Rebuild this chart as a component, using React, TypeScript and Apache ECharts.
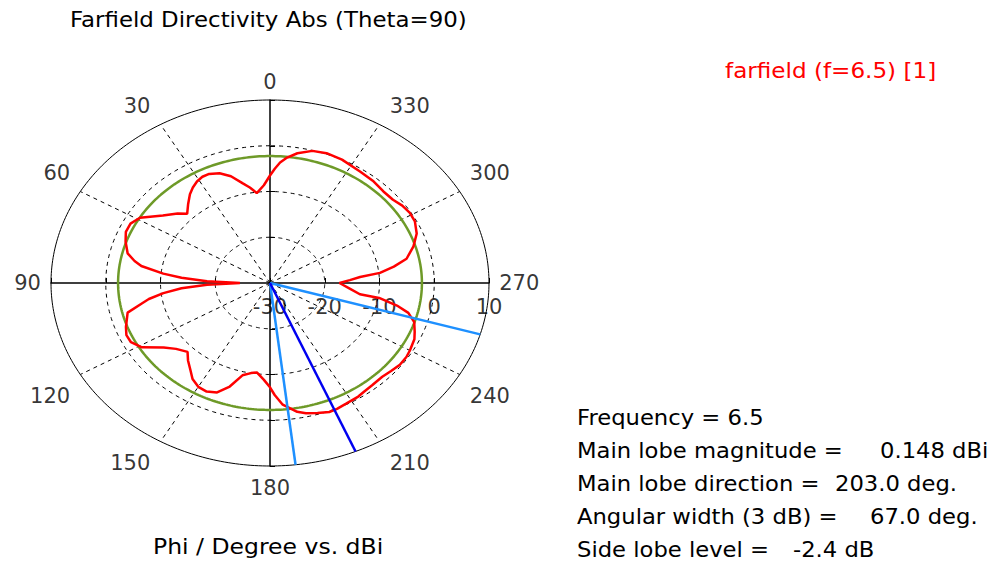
import React, { useEffect, useRef } from "react";
import * as echarts from "echarts";

// ---------- data ----------
const phiDeg = [0,3,7,10,13,17,21,25,28,31,34,37,41,45,48,53,59,63,67,71,76,79,81,84,86,88,90,92,94,96.5,99,101,104,110,113.5,117,121,126,130,135,138.5,142.5,146,150,154,158,162,166,170,173,177,180,182,185,190,193,197,201,204,208,213,216,220,225,229,233,237,240,245,248,252,255.5,258,260.7,261.5,265,270,272.5,274.6,276.3,279,282,287,292,297,301,305,309,314,320,326,334,340,345,350,353.5,356,358,360];
const directivityDbi = [-6.5,-8.6,-10.2,-8.8,-7.6,-5.6,-4.3,-3.7,-3.7,-4.1,-4.8,-5.7,-7.2,-8.6,-7.3,-5.5,-2.3,-1.4,-1.4,-2.1,-3.2,-4.8,-6.2,-10.4,-13.8,-18.5,-24.5,-18.5,-13.8,-10.4,-7.6,-6.0,-3.2,-2.0,-1.4,-1.5,-2.7,-6.0,-7.6,-8.7,-7.4,-6.1,-4.7,-3.8,-3.6,-4.2,-6.2,-9.2,-10.0,-10.3,-8.8,-7.2,-5.5,-3.3,-1.4,-0.8,-0.3,0.2,0.1,-0.2,-0.4,-0.7,-0.9,-1.0,-0.7,-0.3,-0.3,-0.5,-0.9,-1.5,-2.3,-3.9,-6.3,-9.8,-13.4,-15.3,-17.3,-15.4,-13.5,-9.8,-7.1,-4.5,-2.6,-1.1,-0.3,-0.2,-0.5,-1.1,-1.2,-0.8,-0.6,0.0,0.2,-0.1,-1.2,-2.4,-3.6,-5.0,-6.5];

const angleTicks = [0, 30, 60, 90, 120, 150, 180, 210, 240, 270, 300, 330];
const angleTickLabels = ["0", "30", "60", "90", "120", "150", "180", "210", "240", "270", "300", "330"];
const radialTicksDb = [-30, -20, -10, 0, 10];
const radialTickLabels = ["-30", "-20", "-10", "0", "10"];
const radialMinDb = -30;
const radialMaxDb = 10;
const dashedCirclesDb = [-20, -10, 0];
const spokeAngles = [30, 60, 120, 150, 210, 240, 300, 330];

const mainLobeMagnitude = 0.148;
const mainLobeDirection = 203.0;
const angularWidth3dB = 67.0;
const sideLobeLevel = -2.4;
const beamEdgeDirections = [186.7, 253.7];

const titleText = "Farfield Directivity Abs (Theta=90)";
const legendText = "farfield (f=6.5) [1]";
const axisTitleText = "Phi / Degree vs. dBi";
const infoLabels = ["Frequency = 6.5", "Main lobe magnitude =", "Main lobe direction =", "Angular width (3 dB) =", "Side lobe level ="];
const infoValues = ["", "0.148 dBi", "203.0 deg.", "67.0 deg.", "-2.4 dB"];

// ---------- layout ----------
const CX = 270, CY = 283, RX = 219, RY = 183;
const FONT = '"DejaVu Sans", Verdana, sans-serif';
const infoValueX = [0, 880, 835, 870, 793];
const infoLineY = [418, 451, 484, 517, 550];

const toXY = (phi: number, db: number) => {
  const r = (db - radialMinDb) / (radialMaxDb - radialMinDb);
  const a = (phi * Math.PI) / 180;
  return [-r * Math.sin(a), r * Math.cos(a)];
};
const circle = (db: number) => {
  const pts: number[][] = [];
  for (let k = 0; k <= 360; k += 1) pts.push(toXY(k, db));
  return pts;
};
const ray = (phi: number) => [toXY(phi, radialMinDb), toXY(phi, radialMaxDb)];

const lineSeries = (data: any[], color: string, width: number, type: any = "solid") => ({
  type: "line",
  data,
  symbol: "none",
  silent: true,
  clip: false,
  smooth: false,
  animation: false,
  lineStyle: { color, width, type },
});

const sgn = (v: number) => (Math.abs(v) < 1e-6 ? 0 : Math.sign(v));
const angleLabelData = angleTicks.map((phi, i) => {
  const a = (phi * Math.PI) / 180;
  const s = Math.sin(a), c = Math.cos(a);
  const hw = (angleTickLabels[i].length * 13.5) / 2;
  const hh = 8.5;
  const px = s * RX + sgn(s) * (10 + hw);
  const py = c * RY + sgn(c) * (10 + hh) + (c < -1e-6 ? -3 : 0);
  return { name: angleTickLabels[i], value: [-px / RX, py / RY] };
});
const radialLabelData = radialTicksDb.map((db, i) => ({ name: radialTickLabels[i], value: toXY(270, db) }));

const labelScatter = (data: any[], offset: number[]) => ({
  type: "scatter",
  data,
  symbolSize: 0,
  clip: false,
  silent: true,
  animation: false,
  label: {
    show: true,
    position: "inside",
    offset,
    formatter: (p: any) => p.name,
    color: "#000",
    fontSize: 21,
    fontFamily: FONT,
  },
});

export default function App() {
  const ref = useRef<HTMLDivElement>(null);
  useEffect(() => {
    const chart = echarts.init(ref.current!, null, { renderer: "svg" });
    const pattern = phiDeg.map((p, i) => toXY(p, directivityDbi[i]));
    const series: any[] = [];
    dashedCirclesDb.forEach((db) => series.push(lineSeries(circle(db), "#000", 1, [4, 4])));
    spokeAngles.forEach((p) => series.push(lineSeries(ray(p), "#000", 1, [4, 4])));
    series.push(lineSeries(circle(radialMaxDb), "#000", 1));
    series.push(lineSeries(circle(mainLobeMagnitude + sideLobeLevel), "#6E9A28", 2.5));
    series.push(lineSeries(pattern, "#FF0000", 2.5));
    beamEdgeDirections.forEach((p) => series.push(lineSeries(ray(p), "#1E90FF", 2.5)));
    series.push(lineSeries(ray(mainLobeDirection), "#0000F0", 2.5));
    series.push(labelScatter(angleLabelData, [0, 0]));
    series.push(labelScatter(radialLabelData, [0, 24]));

    const graphic: any[] = [
      { type: "text", x: 70, y: 20, scaleX: 1.09, style: { text: titleText, font: `21px ${FONT}`, fill: "#000", align: "left", verticalAlign: "middle" } },
      { type: "text", x: 725, y: 71, scaleX: 1.1, style: { text: legendText, font: `21px ${FONT}`, fill: "#FF0000", align: "left", verticalAlign: "middle" } },
      { type: "text", x: 153, y: 546, scaleX: 1.12, style: { text: axisTitleText, font: `21px ${FONT}`, fill: "#000", align: "left", verticalAlign: "middle" } },
    ];
    infoLabels.forEach((t, i) => {
      graphic.push({ type: "text", x: 577, y: infoLineY[i], scaleX: 1.08, style: { text: t, font: `21px ${FONT}`, fill: "#000", align: "left", verticalAlign: "middle" } });
      if (infoValues[i]) {
        graphic.push({ type: "text", x: infoValueX[i], y: infoLineY[i], scaleX: 1.08, style: { text: infoValues[i], font: `21px ${FONT}`, fill: "#000", align: "left", verticalAlign: "middle" } });
      }
    });

    const axisCommon = {
      type: "value",
      min: -1,
      max: 1,
      interval: 0.25,
      axisLine: { onZero: true, lineStyle: { color: "#000", width: 1.5 } },
      axisTick: { inside: true, length: 5, lineStyle: { color: "#000", width: 1 } },
      axisLabel: { show: false },
      splitLine: { show: false },
    };

    chart.setOption({
      animation: false,
      backgroundColor: "#fff",
      grid: { left: CX - RX, top: CY - RY, width: 2 * RX, height: 2 * RY, containLabel: false },
      xAxis: axisCommon,
      yAxis: axisCommon,
      series,
      graphic,
    });
    return () => chart.dispose();
  }, []);
  return (
    <div
      ref={ref}
      style={{ position: "fixed", left: 0, top: 0, width: 995, height: 564, background: "#fff" }}
    />
  );
}
